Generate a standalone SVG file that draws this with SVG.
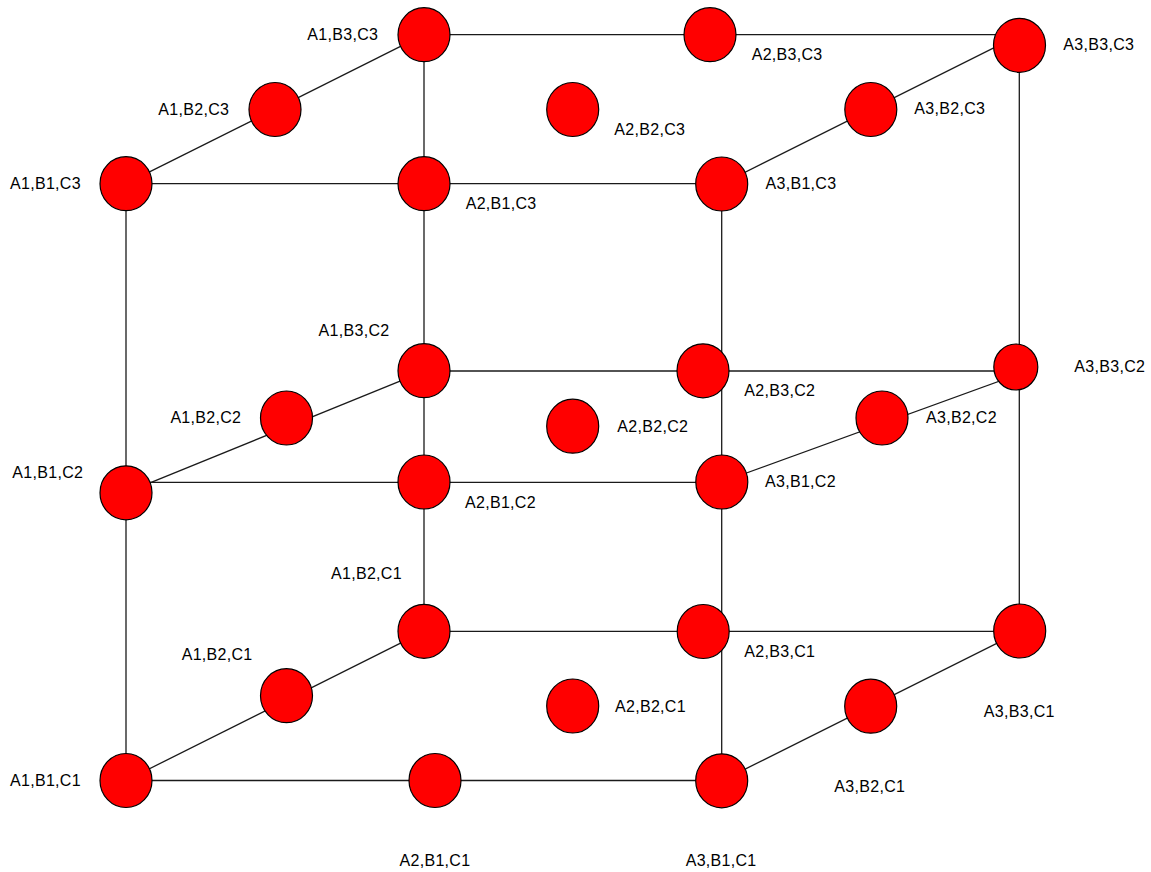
<svg xmlns="http://www.w3.org/2000/svg" width="1151" height="872" viewBox="0 0 1151 872">
<style>
.e{stroke:#1a1a1a;stroke-width:1.3;fill:none}
.n{fill:#ff0000;stroke:#000;stroke-width:1.2}
.t{font-family:"Liberation Sans",Arial,sans-serif;font-size:16px;letter-spacing:0.3px;fill:#000}
</style>
<rect width="1151" height="872" fill="#fff"/>
<g id="connectors">
<line class="e" x1="424" y1="34.7" x2="1019.5" y2="34.7"/>
<line class="e" x1="126" y1="183.7" x2="424" y2="34.7"/>
<line class="e" x1="126" y1="183.7" x2="721.7" y2="183.7"/>
<line class="e" x1="721.7" y1="184" x2="1019.5" y2="35"/>
<line class="e" x1="424" y1="34.7" x2="424" y2="631.3"/>
<line class="e" x1="126" y1="183.7" x2="126" y2="780.5"/>
<line class="e" x1="1019.3" y1="45" x2="1019.3" y2="631"/>
<line class="e" x1="721.7" y1="184" x2="721.7" y2="780.8"/>
<line class="e" x1="424" y1="371" x2="1019" y2="371"/>
<line class="e" x1="126" y1="492.6" x2="424" y2="371.4"/>
<line class="e" x1="126" y1="482.3" x2="721.7" y2="482.3"/>
<line class="e" x1="721.7" y1="482" x2="1019" y2="374"/>
<line class="e" x1="424" y1="631.3" x2="1019.7" y2="631.3"/>
<line class="e" x1="126" y1="780.5" x2="424" y2="631.3"/>
<line class="e" x1="126" y1="780.5" x2="721.7" y2="780.5"/>
<line class="e" x1="721.7" y1="780.8" x2="1019.5" y2="632"/>
</g>
<g id="A1B3C3"><ellipse class="n" cx="424" cy="34.7" rx="26" ry="27"/><text class="t" x="307.3" y="40">A1,B3,C3</text></g>
<g id="A2B3C3"><ellipse class="n" cx="710" cy="34.7" rx="26" ry="27"/><text class="t" x="751.7" y="59.7">A2,B3,C3</text></g>
<g id="A3B3C3"><ellipse class="n" cx="1019.5" cy="45.3" rx="26" ry="27"/><text class="t" x="1063.3" y="50">A3,B3,C3</text></g>
<g id="A1B2C3"><ellipse class="n" cx="275" cy="109.5" rx="26" ry="27"/><text class="t" x="158.3" y="115">A1,B2,C3</text></g>
<g id="A2B2C3"><ellipse class="n" cx="572.7" cy="109.5" rx="26" ry="27"/><text class="t" x="614.3" y="135">A2,B2,C3</text></g>
<g id="A3B2C3"><ellipse class="n" cx="870.8" cy="109.5" rx="26" ry="27"/><text class="t" x="914.3" y="114.3">A3,B2,C3</text></g>
<g id="A1B1C3"><ellipse class="n" cx="126" cy="183.7" rx="26" ry="27"/><text class="t" x="10" y="189.3">A1,B1,C3</text></g>
<g id="A2B1C3"><ellipse class="n" cx="424" cy="183.7" rx="26" ry="27"/><text class="t" x="465.7" y="209">A2,B1,C3</text></g>
<g id="A3B1C3"><ellipse class="n" cx="721.7" cy="184" rx="26" ry="27"/><text class="t" x="765.5" y="189">A3,B1,C3</text></g>
<g id="A1B3C2"><ellipse class="n" cx="424" cy="370.7" rx="26" ry="27"/><text class="t" x="318.6" y="336">A1,B3,C2</text></g>
<g id="A2B3C2"><ellipse class="n" cx="703" cy="370.8" rx="26" ry="27"/><text class="t" x="744.3" y="396">A2,B3,C2</text></g>
<g id="A3B3C2"><ellipse class="n" cx="1015.8" cy="367" rx="22" ry="23"/><text class="t" x="1074.3" y="372.3">A3,B3,C2</text></g>
<g id="A1B2C2"><ellipse class="n" cx="286.5" cy="418" rx="26" ry="27"/><text class="t" x="170.4" y="423.3">A1,B2,C2</text></g>
<g id="A2B2C2"><ellipse class="n" cx="572.7" cy="426.2" rx="26" ry="27"/><text class="t" x="617.3" y="431.7">A2,B2,C2</text></g>
<g id="A3B2C2"><ellipse class="n" cx="882" cy="418" rx="26" ry="27"/><text class="t" x="926" y="423.3">A3,B2,C2</text></g>
<g id="A1B1C2"><ellipse class="n" cx="126" cy="492.8" rx="26" ry="27"/><text class="t" x="12.3" y="477.5">A1,B1,C2</text></g>
<g id="A2B1C2"><ellipse class="n" cx="424" cy="482" rx="26" ry="27"/><text class="t" x="465" y="508.3">A2,B1,C2</text></g>
<g id="A3B1C2"><ellipse class="n" cx="721.8" cy="482" rx="26" ry="27"/><text class="t" x="765" y="486.7">A3,B1,C2</text></g>
<g id="A1B2C1a"><ellipse class="n" cx="424" cy="631.3" rx="26" ry="27"/><text class="t" x="331" y="579.3">A1,B2,C1</text></g>
<g id="A2B3C1"><ellipse class="n" cx="703.2" cy="631.5" rx="26" ry="27"/><text class="t" x="744.3" y="657.3">A2,B3,C1</text></g>
<g id="A3B3C1"><ellipse class="n" cx="1019.7" cy="631" rx="26" ry="27"/><text class="t" x="983.8" y="716.7">A3,B3,C1</text></g>
<g id="A1B2C1b"><ellipse class="n" cx="286.5" cy="695.7" rx="26" ry="27"/><text class="t" x="181.7" y="660">A1,B2,C1</text></g>
<g id="A2B2C1"><ellipse class="n" cx="572.7" cy="706" rx="26" ry="27"/><text class="t" x="615" y="711.7">A2,B2,C1</text></g>
<g id="A3B2C1"><ellipse class="n" cx="870.7" cy="706.2" rx="26" ry="27"/><text class="t" x="834.3" y="791.7">A3,B2,C1</text></g>
<g id="A1B1C1"><ellipse class="n" cx="126" cy="780.5" rx="26" ry="27"/><text class="t" x="10" y="785.7">A1,B1,C1</text></g>
<g id="A2B1C1"><ellipse class="n" cx="435" cy="780.5" rx="26" ry="27"/><text class="t" x="399.5" y="866">A2,B1,C1</text></g>
<g id="A3B1C1"><ellipse class="n" cx="721.7" cy="780.8" rx="26" ry="27"/><text class="t" x="685.7" y="866">A3,B1,C1</text></g>
</svg>
